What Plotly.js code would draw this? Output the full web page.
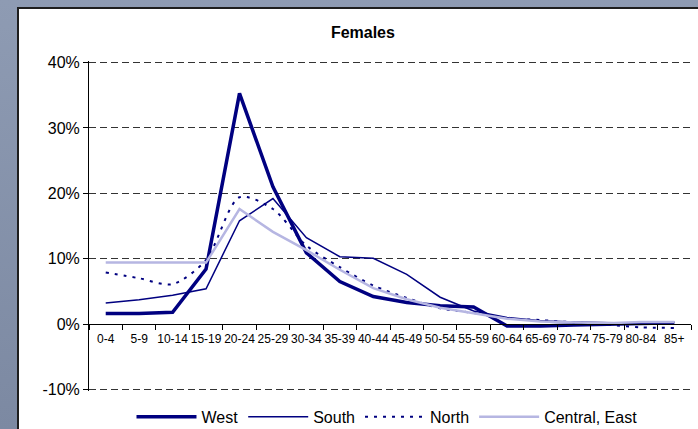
<!DOCTYPE html>
<html>
<head>
<meta charset="utf-8">
<script src="https://cdn.plot.ly/plotly-3.0.1.min.js"></script>
<style>
  html, body { margin: 0; padding: 0; }
  body {
    width: 698px; height: 429px; overflow: hidden; position: relative;
    background: linear-gradient(180deg, #8e9bb3 0%, #7c89a2 100%);
  }
  #chart {
    position: absolute; left: 17px; top: 7px; width: 681px; height: 422px;
    background: #fff; border-left: 2px solid #1e1e1e; border-top: 2px solid #1e1e1e;
    box-sizing: border-box;
  }
</style>
</head>
<body>
<div id="chart"></div>
<script>
const categories = ['0-4','5-9','10-14','15-19','20-24','25-29','30-34','35-39','40-44','45-49','50-54','55-59','60-64','65-69','70-74','75-79','80-84','85+'];
const west    = [1.6, 1.6, 1.8, 8.4, 35.3, 21.0, 10.9, 6.5, 4.2, 3.3, 2.8, 2.6, -0.3, -0.3, -0.15, 0.0, 0.1, 0.2];
const south   = [3.2, 3.7, 4.4, 5.4, 15.8, 19.2, 13.2, 10.3, 10.05, 7.6, 4.1, 2.0, 1.0, 0.5, 0.3, 0.2, 0.1, 0.25];
const north   = [7.9, 7.0, 6.1, 9.8, 19.4, 17.6, 12.0, 8.7, 5.9, 4.0, 2.4, 1.7, 0.9, 0.6, 0.25, -0.1, -0.5, -0.6];
const central = [9.4, 9.4, 9.4, 9.4, 17.6, 14.1, 11.3, 8.3, 5.5, 3.8, 2.5, 1.6, 0.8, 0.4, 0.2, 0.1, 0.3, 0.3];
const yTicks = [-10, 0, 10, 20, 30, 40];
const yTickLabels = ['-10%', '0%', '10%', '20%', '30%', '40%'];

const navy = '#000080';
const traces = [
  {x: categories, y: west, name: 'West', type: 'scatter', mode: 'lines',
   line: {color: navy, width: 3.5}},
  {x: categories, y: south, name: 'South', type: 'scatter', mode: 'lines',
   line: {color: navy, width: 1.5}},
  {x: categories, y: north, name: 'North', type: 'scatter', mode: 'lines',
   line: {color: navy, width: 2, dash: '3px,6px', shape: 'spline', smoothing: 0.8}},
  {x: categories, y: central, name: 'Central, East', type: 'scatter', mode: 'lines',
   line: {color: '#b6b6e2', width: 2.5}}
];

const layout = {
  width: 681, height: 422,
  margin: {l: 70, r: 9, t: 52.4, b: 40.4, autoexpand: false},
  paper_bgcolor: 'rgba(0,0,0,0)',
  plot_bgcolor: 'rgba(0,0,0,0)',
  font: {family: 'Liberation Sans, Arial, sans-serif', color: '#000', size: 12},
  title: {text: '<b>Females</b>', font: {size: 16, color: '#000'},
          x: 0.505, xref: 'container', xanchor: 'center', y: 0.945, yref: 'container', yanchor: 'middle'},
  showlegend: true,
  legend: {orientation: 'h', x: 0.495, xanchor: 'center', y: -0.078, yanchor: 'middle',
           font: {size: 16}, itemwidth: 60, traceorder: 'normal', bgcolor: 'rgba(0,0,0,0)'},
  xaxis: {
    type: 'category', tickson: 'boundaries', ticks: 'outside', ticklen: 5, tickcolor: '#000',
    showline: true, linecolor: '#000', linewidth: 1, showgrid: false, zeroline: false,
    anchor: 'free', position: 10.25 / 50.5, tickfont: {size: 12}, tickangle: 0, automargin: false,
    ticklabelstandoff: 4, range: [-0.5, 17.5]
  },
  yaxis: {
    range: [-10.25, 40.25], tickvals: yTicks, ticktext: yTickLabels, ticks: 'outside', ticklen: 5,
    tickcolor: '#000', showline: true, linecolor: '#000', linewidth: 1,
    showgrid: true, gridcolor: '#333', gridwidth: 1, griddash: '7px,4px',
    zeroline: true, zerolinecolor: '#000', zerolinewidth: 1, tickfont: {size: 16}, automargin: false
  }
};

Plotly.newPlot('chart', traces, layout, {displayModeBar: false, staticPlot: true});
</script>
</body>
</html>
